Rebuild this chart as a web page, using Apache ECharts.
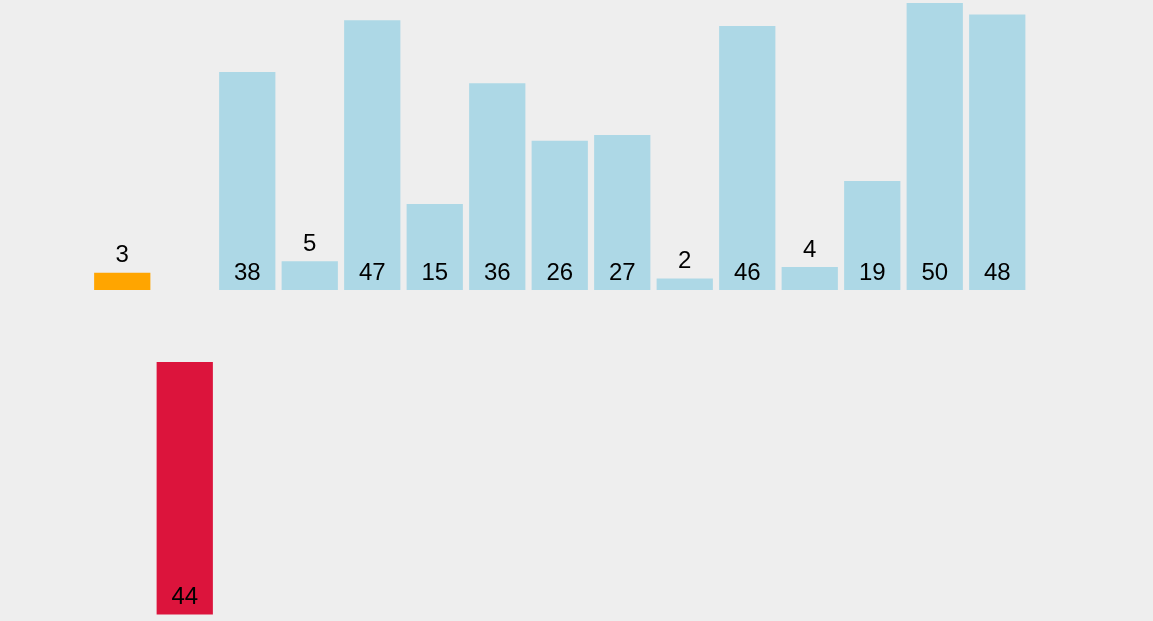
<!DOCTYPE html>
<html>
<head>
<meta charset="utf-8">
<script src="https://cdn.jsdelivr.net/npm/echarts@6/dist/echarts.min.js"></script>
<style>
  html, body { margin: 0; padding: 0; background: #eeeeee; }
  #main { width: 1153px; height: 621px; }
</style>
</head>
<body>
<div id="main"></div>
<script>
// bar values, left to right
var values = [3, 44, 38, 5, 47, 15, 36, 26, 27, 2, 46, 4, 19, 50, 48];
// state of each bar: 'active' (orange), 'lifted' (red, drawn below), 'normal'
var states = ['active', 'lifted', 'normal', 'normal', 'normal', 'normal', 'normal', 'normal',
              'normal', 'normal', 'normal', 'normal', 'normal', 'normal', 'normal'];
var categories = values.map(function (v, i) { return String(i); });

var colors = { normal: '#add8e6', active: '#ffa500', lifted: '#dc143c' };

function labelPos(v) {
  return v < 10 ? 'top' : 'insideBottom';
}

var topData = values.map(function (v, i) {
  if (states[i] === 'lifted') return '-';
  return {
    value: v,
    itemStyle: { color: colors[states[i]] },
    label: { position: labelPos(v) }
  };
});

var bottomData = values.map(function (v, i) {
  if (states[i] !== 'lifted') return '-';
  return {
    value: v,
    itemStyle: { color: colors.lifted },
    label: { position: 'insideBottom' }
  };
});

var chart = echarts.init(document.getElementById('main'));

var labelStyle = {
  show: true,
  color: '#000',
  fontSize: 24,
  fontFamily: 'Liberation Sans, Arial, sans-serif',
  distance: 5
};

// top grid: 287px for 0..50; bottom grid runs to the canvas edge with the same scale
var topH = 287, bottomTop = 362, bottomH = 621 - bottomTop;

var option = {
  backgroundColor: '#eeeeee',
  animation: false,
  grid: [
    { left: 91, width: 937.5, top: 3, height: topH },
    { left: 91, width: 937.5, top: bottomTop, height: bottomH }
  ],
  xAxis: [
    { type: 'category', data: categories, gridIndex: 0, show: false },
    { type: 'category', data: categories, gridIndex: 1, show: false }
  ],
  yAxis: [
    { type: 'value', gridIndex: 0, min: 0, max: 50, show: false },
    { type: 'value', gridIndex: 1, min: 0, max: 50 * bottomH / topH, inverse: true, show: false }
  ],
  series: [
    {
      type: 'bar',
      xAxisIndex: 0,
      yAxisIndex: 0,
      data: topData,
      barCategoryGap: '10%',
      label: labelStyle
    },
    {
      type: 'bar',
      xAxisIndex: 1,
      yAxisIndex: 1,
      data: bottomData,
      barCategoryGap: '10%',
      label: labelStyle
    }
  ]
};

chart.setOption(option);
</script>
</body>
</html>
